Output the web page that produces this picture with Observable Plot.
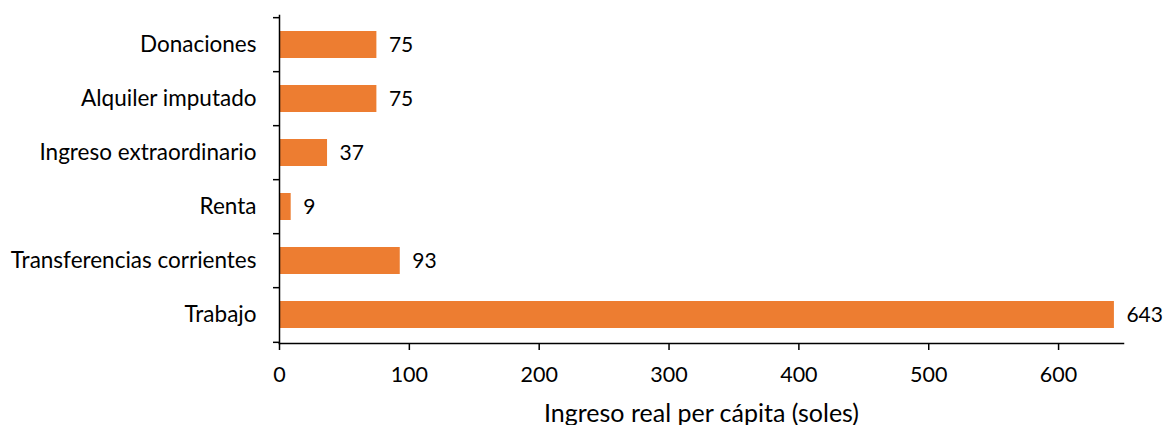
<!DOCTYPE html>
<html><head><meta charset="utf-8">
<script src="https://cdn.jsdelivr.net/npm/d3@7"></script>
<script src="https://cdn.jsdelivr.net/npm/@observablehq/plot@0.6"></script>
<style>body{margin:0;background:#fff;} svg{display:block;}</style>
</head><body><div id="chart"></div>
<script>
const categories = ["Donaciones","Alquiler imputado","Ingreso extraordinario","Renta","Transferencias corrientes","Trabajo"];
const values = [75, 75, 37, 9, 93, 643];
const xTicks = [0,100,200,300,400,500,600];
const xLabel = "Ingreso real per cápita (soles)";

const data = categories.map((c,i)=>({cat:c, v:values[i]}));
const H = 425, mt = 15, mb = 82;
const step = (H - mt - mb) / categories.length;
const font = "Lato, sans-serif";

const chart = Plot.plot({
  width: 1164, height: H,
  marginLeft: 279, marginRight: 41, marginTop: mt, marginBottom: mb,
  style: {fontFamily: font, fontSize: "22px", color: "#000", background: "#fff"},
  x: {domain: [0, 650]},
  y: {domain: categories, paddingInner: 0.5, paddingOuter: 0.25},
  marks: [
    Plot.barX(data, {x: "v", y: "cat", fill: "#ED7D31"}),
    Plot.text(data, {x: "v", y: "cat", text: d => String(d.v), textAnchor: "start", dx: 12, fill: "#000", fontSize: 21}),
    Plot.frame({anchor: "left", stroke: "#000", strokeWidth: 1.5}),
    Plot.frame({anchor: "bottom", stroke: "#000", strokeWidth: 1.5}),
    Plot.axisY({tickSize: 0, tickPadding: 23, fontSize: 22.5, label: null, fill: "#000"}),
    Plot.axisY({tickSize: 6, text: null, dy: -step/2, stroke: "#000", strokeWidth: 1.5, label: null}),
    Plot.axisY({ticks: [categories[categories.length-1]], tickSize: 6, text: null, dy: step/2, stroke: "#000", strokeWidth: 1.5, label: null}),
    Plot.axisX({ticks: xTicks, tickSize: 7, tickPadding: 16, fontSize: 21.5, stroke: "#000", strokeWidth: 1.5, fill: "#000", label: null}),
    Plot.text([xLabel], {text: d => d, frameAnchor: "bottom", dy: 78, fontSize: 25, fill: "#000"})
  ]
});
document.getElementById("chart").appendChild(chart);
</script></body></html>
